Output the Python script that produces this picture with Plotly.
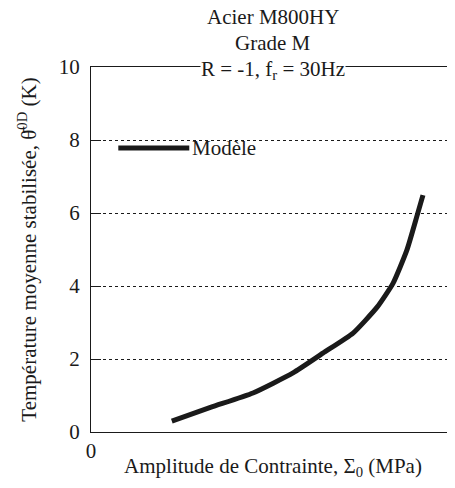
import plotly.graph_objects as go

# model curve
sigma = [0.222, 0.33, 0.445, 0.555, 0.637, 0.72, 0.786, 0.83, 0.868, 0.895, 0.912]
theta = [0.30, 0.68, 1.07, 1.62, 2.16, 2.71, 3.42, 4.08, 4.99, 5.9, 6.49]

legend_x = [0.075, 0.27]
legend_y = [7.78, 7.78]

y_ticks = [0, 2, 4, 6, 8, 10]
x_ticks = [0, 1]

fnt = "Liberation Serif"
fs = 21

fig = go.Figure()
fig.add_trace(go.Scatter(x=sigma, y=theta, mode="lines",
                         line=dict(color="#1a1a1a", width=5, shape="spline", smoothing=0.5),
                         showlegend=False))
# hand-drawn legend like the original
fig.add_trace(go.Scatter(x=legend_x, y=legend_y, mode="lines",
                         line=dict(color="#1a1a1a", width=5), showlegend=False))
fig.add_annotation(x=legend_x[1], y=legend_y[1], text="Modèle", showarrow=False,
                   xanchor="left", xshift=1, font=dict(size=fs))

fig.add_annotation(x=0.5, y=1, xref="paper", yref="paper", yanchor="middle", yshift=50,
                   text="Acier M800HY", showarrow=False, font=dict(size=fs))
fig.add_annotation(x=0.5, y=1, xref="paper", yref="paper", yanchor="middle", yshift=24,
                   text="Grade M", showarrow=False, font=dict(size=fs))
fig.add_annotation(x=0.5, y=1, xref="paper", yref="paper", yanchor="middle", yshift=-3,
                   text="R = -1, f<sub>r</sub> = 30Hz", showarrow=False,
                   bgcolor="white", borderpad=0, font=dict(size=fs))

# page body has an 8px margin, so the figure is sized to end at the window edge
fig.update_layout(
    width=447, height=472,
    margin=dict(l=83, r=0, t=59, b=48),
    plot_bgcolor="white", paper_bgcolor="white",
    font=dict(family=fnt, size=fs, color="#1a1a1a"),
    xaxis=dict(range=[0, 1], tickvals=x_ticks, showgrid=False, zeroline=False,
               showline=True, mirror=True, linecolor="#1a1a1a", linewidth=1,
               ticks="", automargin=False,
               title=dict(text="Amplitude de Contrainte, Σ<sub>0</sub> (MPa)",
                          standoff=4, font=dict(size=fs))),
    yaxis=dict(range=[0, 10], tickvals=y_ticks, showgrid=True,
               gridcolor="#1a1a1a", gridwidth=1, griddash="3px,3px", zeroline=False,
               showline=True, mirror="ticks", linecolor="#1a1a1a", linewidth=1,
               ticks="inside", ticklen=10, tickcolor="#1a1a1a", automargin=False,
               ticklabelstandoff=6,
               title=dict(text="Température moyenne stabilisée, θ\u0304<sup>0D</sup> (K)",
                          standoff=16, font=dict(size=fs))),
)

fig.write_html("out.html", config={"displayModeBar": False})
